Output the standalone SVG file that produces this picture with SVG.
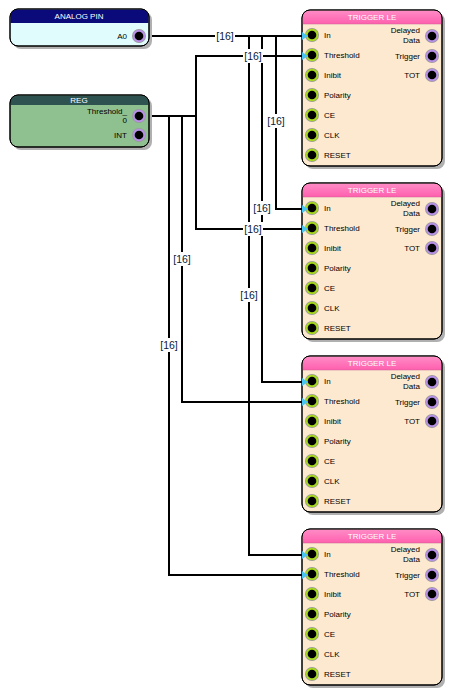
<svg xmlns="http://www.w3.org/2000/svg" width="452" height="697" viewBox="0 0 452 697">
<defs>
<style>
.t{font-family:"Liberation Sans",Arial,sans-serif;font-size:8px;fill:#000}
.h{font-family:"Liberation Sans",Arial,sans-serif;font-size:8px;fill:#fff;text-anchor:middle}
.r{text-anchor:end}
.w{fill:none;stroke:#000;stroke-width:2}
.lb{font-family:"Liberation Sans",Arial,sans-serif;font-size:10.5px;fill:#0a1a3a;text-anchor:middle}
.sh{fill:#b0b0b0}
.ob{stroke:#000;stroke-width:1}
</style>
<linearGradient id="pk" x1="0" y1="0" x2="0" y2="1"><stop offset="0" stop-color="#ff8cc6"/><stop offset="1" stop-color="#ff5fae"/></linearGradient>
<g id="pin"><circle r="7" fill="#9a9a9a"/><circle r="6.2" fill="#a6d81e"/><circle r="4.3" fill="#000"/></g>
<g id="pout"><circle r="7" fill="#9a9a9a"/><circle r="6.2" fill="#b890e8"/><circle r="4.3" fill="#000"/></g>
<path id="arr" d="M0,-4 L6,0 L0,4 Z" fill="#4cc4f0"/>
<g id="trig">
<rect x="3" y="3" width="140" height="156" rx="8" class="sh"/>
<rect x="0" y="0" width="140" height="156" rx="8" fill="#fde9cf" class="ob"/>
<path d="M0.5,14 L0.5,8 Q0.5,0.5 8,0.5 L132,0.5 Q139.5,0.5 139.5,8 L139.5,14 Z" fill="url(#pk)"/>
<line x1="0.5" y1="14" x2="139.5" y2="14" stroke="#c06090" stroke-width="0.5"/>
<rect x="0" y="0" width="140" height="156" rx="8" fill="none" class="ob"/>
<text class="h" x="70" y="10">TRIGGER LE</text>
<use href="#pin" x="10" y="25"/><use href="#pin" x="10" y="45"/><use href="#pin" x="10" y="65"/><use href="#pin" x="10" y="85"/><use href="#pin" x="10" y="105"/><use href="#pin" x="10" y="125"/><use href="#pin" x="10" y="145"/>
<text class="t" x="22" y="28">In</text>
<text class="t" x="22" y="48">Threshold</text>
<text class="t" x="22" y="68">Inibit</text>
<text class="t" x="22" y="88">Polarity</text>
<text class="t" x="22" y="108">CE</text>
<text class="t" x="22" y="128">CLK</text>
<text class="t" x="22" y="148">RESET</text>
<use href="#pout" x="130" y="26"/><use href="#pout" x="130" y="46"/><use href="#pout" x="130" y="65"/>
<text class="t r" x="118" y="23">Delayed</text>
<text class="t r" x="118" y="33">Data</text>
<text class="t r" x="118" y="49">Trigger</text>
<text class="t r" x="118" y="68">TOT</text>
</g>
</defs>
<rect width="452" height="697" fill="#fff"/>
<g id="connectors">
<polyline class="w" points="139,36 305,36"/>
<polyline class="w" points="276,36 276,209 305,209"/>
<polyline class="w" points="262,36 262,382 305,382"/>
<polyline class="w" points="249,36 249,555 305,555"/>
<polyline class="w" points="139,116 196,116 196,56 305,56"/>
<polyline class="w" points="196,116 196,229 305,229"/>
<polyline class="w" points="182,116 182,402 305,402"/>
<polyline class="w" points="169,116 169,575 305,575"/>
<g>
<rect x="215" y="29" width="20" height="14" fill="#fff"/><text class="lb" x="225" y="40">[16]</text>
<rect x="243" y="49" width="20" height="14" fill="#fff"/><text class="lb" x="253" y="60">[16]</text>
<rect x="266" y="114" width="20" height="14" fill="#fff"/><text class="lb" x="276" y="125">[16]</text>
<rect x="252" y="201" width="20" height="14" fill="#fff"/><text class="lb" x="262" y="212">[16]</text>
<rect x="243" y="222" width="20" height="14" fill="#fff"/><text class="lb" x="253" y="233">[16]</text>
<rect x="172" y="252" width="20" height="14" fill="#fff"/><text class="lb" x="182" y="263">[16]</text>
<rect x="239" y="288" width="20" height="14" fill="#fff"/><text class="lb" x="249" y="299">[16]</text>
<rect x="159" y="338" width="20" height="14" fill="#fff"/><text class="lb" x="169" y="349">[16]</text>
</g>
</g>
<g id="analog_pin">
<rect x="13" y="12" width="139" height="37" rx="8" class="sh"/>
<rect x="10" y="9" width="139" height="37" rx="8" fill="#e0fcfc" class="ob"/>
<path d="M10.5,23 L10.5,17 Q10.5,9.5 18,9.5 L141,9.5 Q148.5,9.5 148.5,17 L148.5,23 Z" fill="#0a0a7a"/>
<rect x="10" y="9" width="139" height="37" rx="8" fill="none" class="ob"/>
<text class="h" x="79" y="19">ANALOG PIN</text>
<text class="t r" x="127" y="39">A0</text>
<use href="#pout" x="139" y="36"/>
</g>
<g id="reg">
<rect x="13" y="98" width="139" height="52" rx="8" class="sh"/>
<rect x="10" y="95" width="139" height="52" rx="8" fill="#8fc08f" class="ob"/>
<path d="M10.5,105 L10.5,103 Q10.5,95.5 18,95.5 L141,95.5 Q148.5,95.5 148.5,103 L148.5,105 Z" fill="#2e5250"/>
<rect x="10" y="95" width="139" height="52" rx="8" fill="none" class="ob"/>
<text class="h" x="79" y="102.5">REG</text>
<text class="t r" x="127" y="114">Threshold_</text>
<text class="t r" x="127" y="123">0</text>
<text class="t r" x="127" y="138">INT</text>
<use href="#pout" x="139" y="116"/>
<use href="#pout" x="139" y="135"/>
</g>
<g id="trigger1"><use href="#trig" x="302" y="10"/><use href="#arr" x="302" y="36"/><use href="#arr" x="302" y="56"/></g>
<g id="trigger2"><use href="#trig" x="302" y="183"/><use href="#arr" x="302" y="209"/><use href="#arr" x="302" y="229"/></g>
<g id="trigger3"><use href="#trig" x="302" y="356"/><use href="#arr" x="302" y="382"/><use href="#arr" x="302" y="402"/></g>
<g id="trigger4"><use href="#trig" x="302" y="529"/><use href="#arr" x="302" y="555"/><use href="#arr" x="302" y="575"/></g>
</svg>
